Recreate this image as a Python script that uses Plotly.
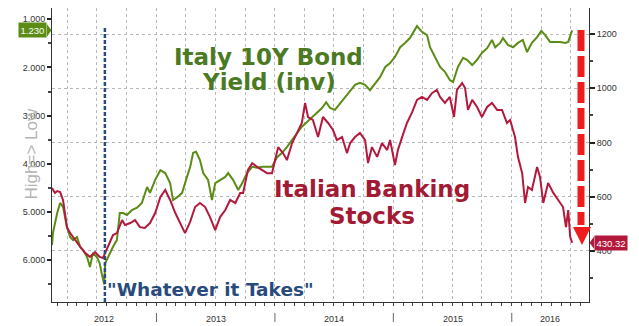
import pandas as pd
import plotly.graph_objects as go

# Italy 10Y government bond yield (%), plotted on an inverted left axis
yield_dates = [
    "2012-02-14", "2012-02-17", "2012-03-01", "2012-03-10", "2012-03-19", "2012-03-31",
    "2012-04-10", "2012-04-19", "2012-05-01", "2012-05-11", "2012-05-20", "2012-06-01",
    "2012-06-10", "2012-06-19", "2012-07-01", "2012-07-10", "2012-07-17", "2012-07-24",
    "2012-07-27", "2012-08-05", "2012-08-20", "2012-09-01", "2012-09-10", "2012-09-20",
    "2012-10-02", "2012-10-17", "2012-11-02", "2012-11-17", "2012-12-03", "2012-12-12",
    "2012-12-28", "2013-01-13", "2013-01-28", "2013-02-12", "2013-02-21", "2013-03-06",
    "2013-03-21", "2013-04-05", "2013-04-15", "2013-04-24", "2013-05-03", "2013-05-15",
    "2013-05-25", "2013-06-09", "2013-06-21", "2013-07-01", "2013-07-16", "2013-08-01",
    "2013-08-10", "2013-08-25", "2013-09-10", "2013-09-22", "2013-10-07", "2013-10-23",
    "2013-11-07", "2013-11-23", "2013-12-08", "2013-12-23", "2014-01-08", "2014-01-23",
    "2014-02-07", "2014-02-23", "2014-03-10", "2014-03-25", "2014-04-10", "2014-04-25",
    "2014-05-11", "2014-05-26", "2014-06-08", "2014-06-20", "2014-07-05", "2014-07-21",
    "2014-08-05", "2014-08-21", "2014-09-05", "2014-09-20", "2014-10-06", "2014-10-21",
    "2014-11-06", "2014-11-21", "2014-12-07", "2014-12-22", "2015-01-06", "2015-01-22",
    "2015-02-06", "2015-02-21", "2015-03-08", "2015-03-15", "2015-03-30", "2015-04-15",
    "2015-04-24", "2015-05-09", "2015-05-25", "2015-06-09", "2015-06-24", "2015-07-04",
    "2015-07-19", "2015-08-04", "2015-08-16", "2015-09-01", "2015-09-16", "2015-10-01",
    "2015-10-17", "2015-11-01", "2015-11-11", "2015-11-26", "2015-12-05", "2015-12-20",
    "2016-01-05", "2016-01-20", "2016-02-04", "2016-02-17", "2016-03-03", "2016-03-19",
    "2016-04-01", "2016-04-13", "2016-04-28", "2016-05-14", "2016-05-29", "2016-06-14",
    "2016-06-23", "2016-07-05",
]
yield_values = [
    5.68, 5.43, 5.02, 4.81, 4.89, 5.31,
    5.52, 5.58, 5.52, 5.72, 5.79, 5.93,
    6.14, 5.85, 5.93, 6.06, 6.30, 6.50,
    6.06, 5.93, 5.72, 5.58, 5.02, 5.02,
    5.06, 4.96, 4.91, 4.81, 4.48, 4.60,
    4.33, 4.13, 4.19, 4.40, 4.75, 4.69,
    4.60, 4.27, 4.06, 3.77, 3.75, 3.92,
    4.19, 4.33, 4.75, 4.40, 4.33, 4.27,
    4.19, 4.33, 4.54, 4.40, 4.19, 4.06,
    4.08, 4.06, 4.06, 4.06, 3.86, 3.77,
    3.65, 3.50, 3.36, 3.23, 3.13, 3.03,
    2.94, 2.84, 2.72, 2.84, 2.88, 2.74,
    2.63, 2.47, 2.36, 2.32, 2.36, 2.47,
    2.32, 2.20, 1.99, 1.91, 1.78, 1.58,
    1.49, 1.39, 1.22, 1.14, 1.26, 1.33,
    1.58, 1.78, 1.99, 2.09, 2.26, 2.30,
    1.99, 1.80, 1.84, 1.95, 1.84, 1.70,
    1.60, 1.43, 1.58, 1.49, 1.39, 1.53,
    1.58, 1.49, 1.43, 1.68, 1.49, 1.37,
    1.24, 1.33, 1.47, 1.47, 1.47, 1.49,
    1.47, 1.23,
]

# Italian banking stocks index, right axis
bank_dates = [
    "2012-02-14", "2012-02-23", "2012-03-01", "2012-03-10", "2012-03-19", "2012-03-31",
    "2012-04-10", "2012-04-25", "2012-05-11", "2012-05-26", "2012-06-10", "2012-06-26",
    "2012-07-10", "2012-07-20", "2012-08-05", "2012-08-20", "2012-09-01", "2012-09-17",
    "2012-09-26", "2012-10-12", "2012-10-27", "2012-11-11", "2012-11-26", "2012-12-12",
    "2012-12-28", "2013-01-13", "2013-01-28", "2013-02-12", "2013-02-28", "2013-03-15",
    "2013-03-30", "2013-04-15", "2013-04-30", "2013-05-15", "2013-05-31", "2013-06-15",
    "2013-07-01", "2013-07-16", "2013-08-01", "2013-08-16", "2013-09-01", "2013-09-16",
    "2013-09-25", "2013-10-10", "2013-10-23", "2013-11-07", "2013-11-23", "2013-12-08",
    "2013-12-23", "2014-01-02", "2014-01-11", "2014-01-26", "2014-02-07", "2014-02-23",
    "2014-03-10", "2014-03-25", "2014-04-04", "2014-04-13", "2014-04-28", "2014-05-14",
    "2014-05-29", "2014-06-14", "2014-06-29", "2014-07-11", "2014-07-27", "2014-08-11",
    "2014-08-21", "2014-09-05", "2014-09-20", "2014-10-06", "2014-10-15", "2014-10-27",
    "2014-11-12", "2014-11-27", "2014-12-13", "2014-12-22", "2015-01-06", "2015-01-15",
    "2015-01-28", "2015-02-12", "2015-02-27", "2015-03-15", "2015-03-30", "2015-04-15",
    "2015-04-30", "2015-05-15", "2015-05-25", "2015-06-09", "2015-06-24", "2015-07-07",
    "2015-07-16", "2015-08-01", "2015-08-10", "2015-08-19", "2015-09-01", "2015-09-16",
    "2015-10-01", "2015-10-17", "2015-11-01", "2015-11-17", "2015-12-02", "2015-12-17",
    "2015-12-27", "2016-01-11", "2016-01-20", "2016-02-02", "2016-02-11", "2016-02-20",
    "2016-03-03", "2016-03-19", "2016-03-28", "2016-04-07", "2016-04-22", "2016-05-08",
    "2016-05-23", "2016-06-07", "2016-06-16", "2016-06-23", "2016-06-29", "2016-07-05",
]
bank_values = [
    632, 614, 621, 617, 588, 488,
    466, 440, 415, 393, 378, 396,
    378, 374, 415, 459, 466, 514,
    496, 503, 514, 488, 485, 503,
    540, 599, 625, 588, 540, 503,
    466, 508, 562, 577, 562, 525,
    477, 525, 551, 588, 577, 614,
    614, 699, 724, 710, 699, 687,
    687, 735, 783, 761, 735, 798,
    835, 872, 946, 894, 883, 820,
    894, 872, 846, 809, 820, 761,
    798, 820, 835, 809, 724, 783,
    747, 798, 772, 809, 717, 772,
    820, 872, 909, 957, 968, 957,
    982, 994, 968, 946, 968, 894,
    994, 1019, 1001, 920, 957, 931,
    894, 931, 946, 920, 920, 872,
    883, 820, 747, 687, 577, 636,
    625, 710, 673, 577, 651, 614,
    588, 562, 488, 551, 452, 430.32,
]

whatever_date = "2012-07-26"
x_start, x_end = "2012-02-14", "2016-08-26"
year_labels = ["2012", "2013", "2014", "2015", "2016"]

GREEN = "#5b8c16"
RED = "#b3193d"
NAVY = "#284a7c"
FONT = "Liberation Sans, Arial, sans-serif"
BOLD = "DejaVu Sans, Verdana, sans-serif"

fig = go.Figure()
fig.add_trace(go.Scatter(x=bank_dates, y=bank_values, yaxis="y2", mode="lines",
                         line=dict(color=RED, width=2), hoverinfo="skip"))
fig.add_trace(go.Scatter(x=yield_dates, y=yield_values, yaxis="y", mode="lines",
                         line=dict(color=GREEN, width=2), hoverinfo="skip"))

quarters = pd.date_range("2012-01-01", "2016-10-01", freq="QS")

# year labels centred in the visible part of each year, plus separators
xs, xe = pd.Timestamp(x_start), pd.Timestamp(x_end)
annotations = []
shapes = []
for lab in year_labels:
    y0 = max(pd.Timestamp(f"{lab}-01-01"), xs)
    y1 = min(pd.Timestamp(f"{int(lab) + 1}-01-01"), xe)
    mid = y0 + (y1 - y0) / 2
    annotations.append(dict(x=mid, y=-0.058, xref="x", yref="paper", text=lab,
                            showarrow=False, yanchor="middle",
                            font=dict(family=FONT, size=9, color="#333")))
    boundary = pd.Timestamp(f"{lab}-01-01")
    if boundary > xs:
        shapes.append(dict(type="line", xref="x", yref="paper", x0=boundary, x1=boundary,
                           y0=-0.037, y1=-0.068, line=dict(color="#666", width=1)))

# "Whatever it Takes" marker
shapes.append(dict(type="line", xref="x", yref="paper", x0=whatever_date, x1=whatever_date,
                   y0=0, y1=0.935, line=dict(color=NAVY, width=2.5, dash="4px,2px")))
annotations.append(dict(x=0.0987, y=0.041, xref="paper", yref="paper", xanchor="left",
                        yanchor="middle", showarrow=False, text='"Whatever it Takes"',
                        font=dict(family=BOLD, size=18.5, color=NAVY, weight="bold")))

# series captions
for txt, x, y, col in [("Italy 10Y Bond", 0.404, 0.835, "#4b7a23"),
                       ("Yield (inv)", 0.404, 0.750, "#4b7a23"),
                       ("Italian Banking", 0.596, 0.383, "#a31a35"),
                       ("Stocks", 0.596, 0.294, "#a31a35")]:
    annotations.append(dict(x=x, y=y, xref="paper", yref="paper", xanchor="center",
                            yanchor="middle", showarrow=False, text=txt,
                            font=dict(family=BOLD, size=23, color=col, weight="bold")))

# left axis title
annotations.append(dict(x=-0.039, y=0.502, xref="paper", yref="paper", textangle=-90,
                        xanchor="center", yanchor="middle",
                        showarrow=False, text="High=> Low",
                        font=dict(family=FONT, size=17, color="#b4b4b4")))

# last-value tags
annotations.append(dict(x=-0.0093, y=yield_values[-1], xref="paper", yref="y",
                        xanchor="right", yanchor="middle", showarrow=False,
                        text=f"{yield_values[-1]:.3f}", bgcolor=GREEN, borderpad=1.5,
                        font=dict(family=FONT, size=9.5, color="white")))
annotations.append(dict(x=1.0093, y=bank_values[-1], xref="paper", yref="y2",
                        xanchor="left", yanchor="middle", showarrow=False,
                        text=f"{bank_values[-1]:.2f}", bgcolor=RED, borderpad=1.5,
                        font=dict(family=FONT, size=9.5, color="white")))
shapes.append(dict(type="path", xref="paper", yref="y",
                   path=f"M -0.0095,{yield_values[-1] - 0.13} L -0.001,{yield_values[-1]} "
                        f"L -0.0095,{yield_values[-1] + 0.13} Z",
                   fillcolor=GREEN, line=dict(width=0)))
shapes.append(dict(type="path", xref="paper", yref="y2",
                   path=f"M 1.0095,{bank_values[-1] - 23} L 1.001,{bank_values[-1]} "
                        f"L 1.0095,{bank_values[-1] + 23} Z",
                   fillcolor=RED, line=dict(width=0)))

# red downward arrow on the right
shapes.append(dict(type="line", xref="paper", yref="paper", x0=0.9851, x1=0.9851,
                   y0=0.925, y1=0.262, line=dict(color="#ee1c1c", width=7, dash="21px,5px")))
shapes.append(dict(type="path", xref="paper", yref="paper",
                   path="M 0.9702,0.255 L 1.0037,0.255 L 0.9870,0.194 Z",
                   fillcolor="#ee1c1c", line=dict(width=0)))

fig.update_layout(
    width=639, height=326,
    margin=dict(l=52, r=50, t=8, b=24, autoexpand=False),
    paper_bgcolor="white", plot_bgcolor="white",
    showlegend=False,
    annotations=annotations, shapes=shapes,
    xaxis=dict(
        type="date", range=[x_start, x_end],
        tickvals=list(quarters), ticktext=[""] * len(quarters),
        showgrid=True, gridcolor="#b8b8b8", griddash="dot", gridwidth=1,
        ticks="outside", ticklen=3, tickcolor="#444", tickwidth=1,
        minor=dict(dtick="M1", tick0="2012-01-01", ticks="outside", ticklen=3,
                   tickcolor="#444", showgrid=False),
        showline=True, linecolor="#333", linewidth=1, zeroline=False,
    ),
    yaxis=dict(
        range=[6.865, 0.766], tickvals=[1, 2, 3, 4, 5, 6], tickformat=".3f",
        showgrid=False, zeroline=False,
        ticks="outside", ticklen=4, tickwidth=2, tickcolor="#222",
        minor=dict(dtick=0.5, tick0=0.5, ticks="outside", ticklen=3, tickcolor="#444"),
        showline=True, linecolor="#333", linewidth=1,
        tickfont=dict(family=FONT, size=9, color="#333"),
    ),
    yaxis2=dict(
        overlaying="y", side="right", range=[211.9, 1295.9], dtick=200, tick0=0,
        showgrid=True, gridcolor="#b8b8b8", griddash="dot", gridwidth=1, zeroline=False,
        ticks="outside", ticklen=5, tickwidth=2, tickcolor="#222",
        minor=dict(dtick=100, tick0=0, ticks="outside", ticklen=3, tickcolor="#444"),
        showline=True, linecolor="#333", linewidth=1,
        tickfont=dict(family=FONT, size=9, color="#333"),
    ),
)

fig.write_html("out.html")
